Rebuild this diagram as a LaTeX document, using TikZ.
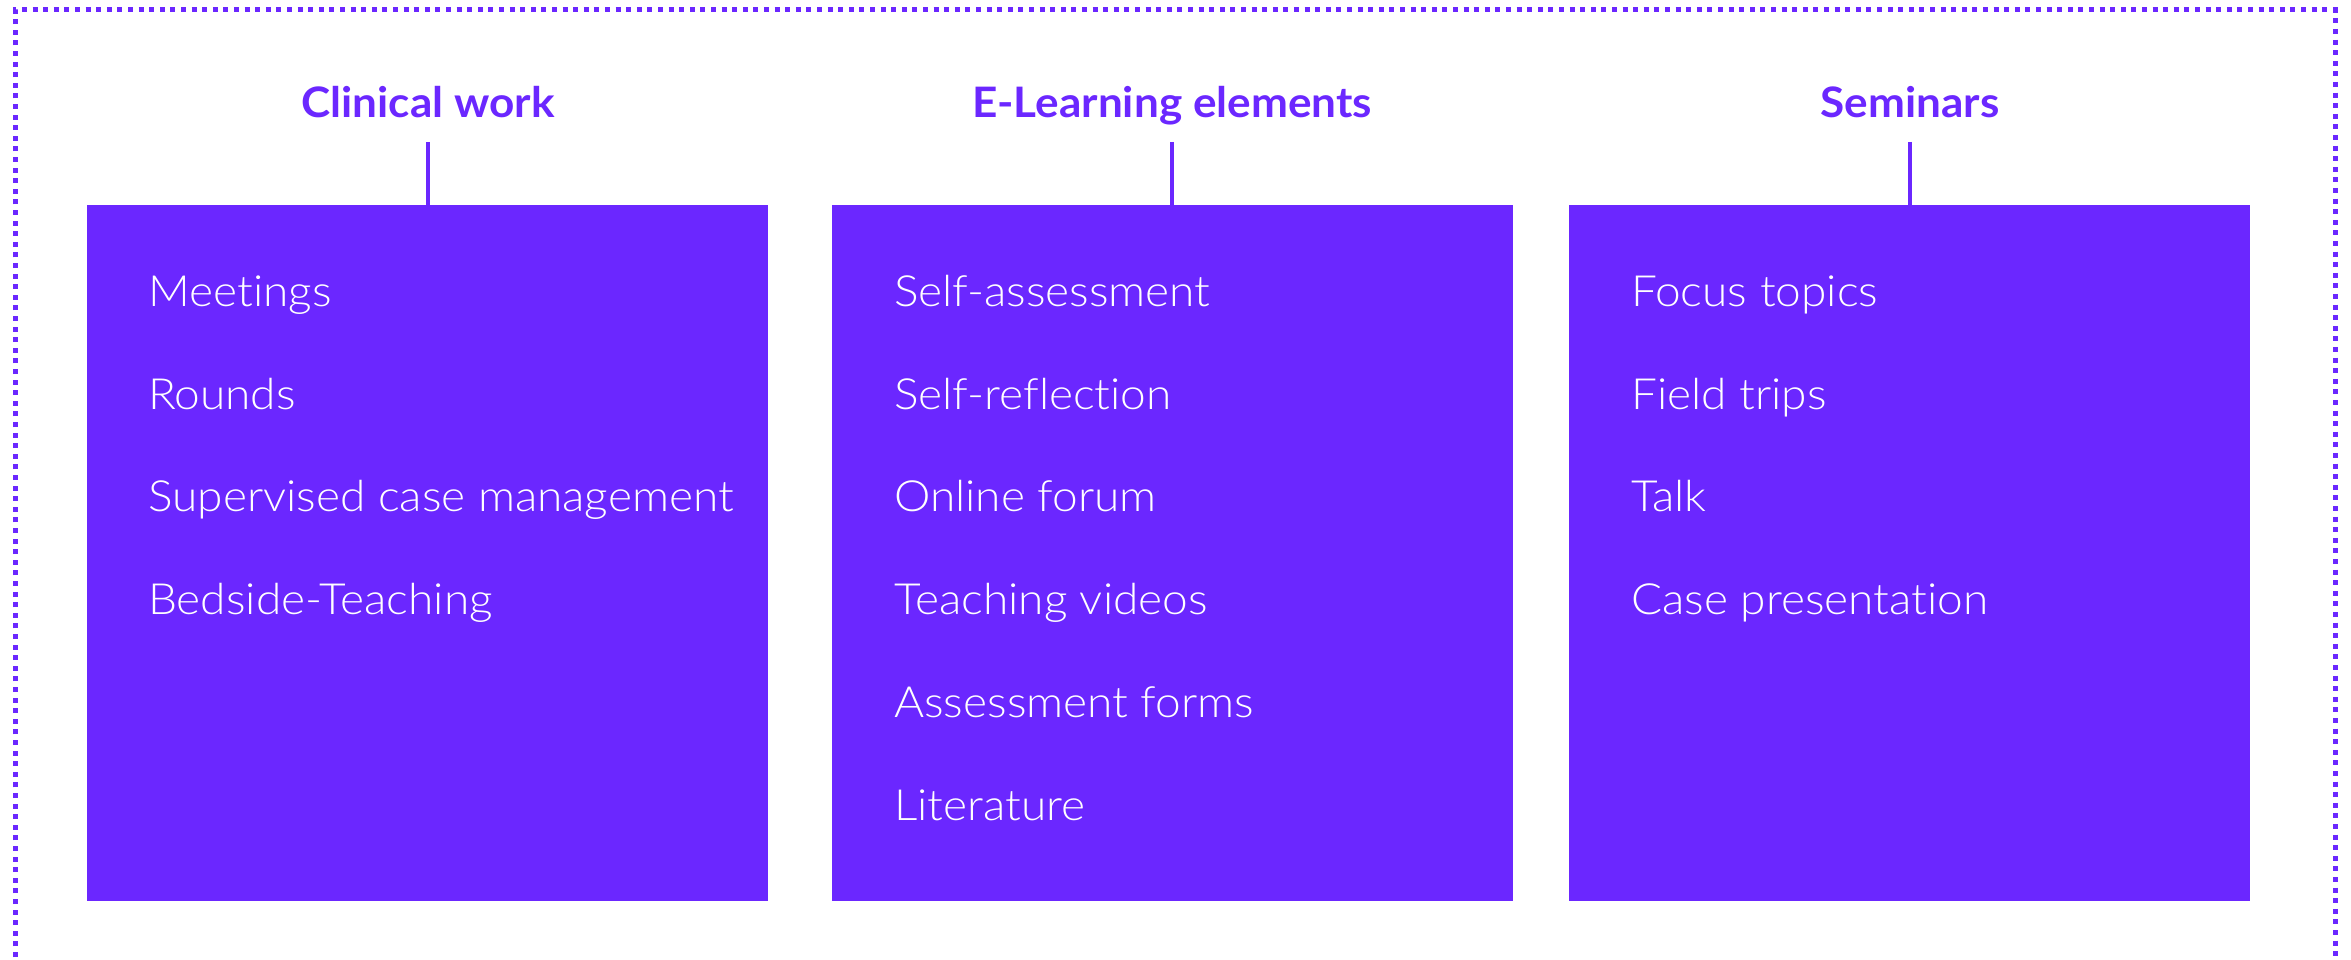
\documentclass[tikz,border=0pt]{standalone}
\usepackage{fontspec}
\setmainfont{Lato}[Ligatures=NoCommon]
\newfontfamily\itemfont{Lato Light}[Ligatures=NoCommon, FakeStretch=1.07]
\newfontfamily\headfont{Lato}[UprightFont=* Bold, Ligatures=NoCommon, FakeStretch=1.05]
\definecolor{vio}{HTML}{6B27FF}
\tikzset{
  panel/.style={fill=vio, draw=none, anchor=north west, minimum width=681pt, minimum height=696pt, inner sep=0pt},
  head/.style={text=vio, font=\headfont\fontsize{42}{50}\selectfont, anchor=base, inner sep=0pt},
  itm/.style={text=white, font=\itemfont\fontsize{43}{52}\selectfont, anchor=base west, inner sep=0pt},
  link/.style={draw=vio, line width=4.5pt},
  frame/.style={draw=vio, line width=5pt, dash pattern=on 5pt off 5.6pt}
}
\begin{document}
\begin{tikzpicture}[x=1pt, y=-1pt]
\useasboundingbox (0,0) rectangle (2351,960);
\draw[frame] (15,1010) -- (15,10) -- (2335,10) -- (2335,1010);
\node[panel] (b1) at (87,205) {};
\node[panel] (b2) at (832,205) {};
\node[panel] (b3) at (1569,205) {};
\node[head] (t1) at (428,118) {Clinical work};
\node[head] (t2) at (1172,118) {E-Learning elements};
\node[head] (t3) at (1910,118) {Seminars};
\coordinate (c1) at (428,142);
\coordinate (c2) at (1172,142);
\coordinate (c3) at (1910,142);
\draw[link] (c1) -- (b1.north -| c1);
\draw[link] (c2) -- (b2.north -| c2);
\draw[link] (c3) -- (b3.north -| c3);
\node[itm] (a1) at (148,306) {Meetings};
\node[itm] (a2) at (148,409) {Rounds};
\node[itm] (a3) at (148,511) {Supervised case management};
\node[itm] (a4) at (148,614) {Bedside-Teaching};
\node[itm] (e1) at (894,306) {Self-assessment};
\node[itm] (e2) at (894,409) {Self-reflection};
\node[itm] (e3) at (894,511) {Online forum};
\node[itm] (e4) at (894,614) {Teaching videos};
\node[itm] (e5) at (894,717) {Assessment forms};
\node[itm] (e6) at (894,820) {Literature};
\node[itm] (s1) at (1631,306) {Focus topics};
\node[itm] (s2) at (1631,409) {Field trips};
\node[itm] (s3) at (1631,511) {Talk};
\node[itm] (s4) at (1631,614) {Case presentation};
\end{tikzpicture}
\end{document}
